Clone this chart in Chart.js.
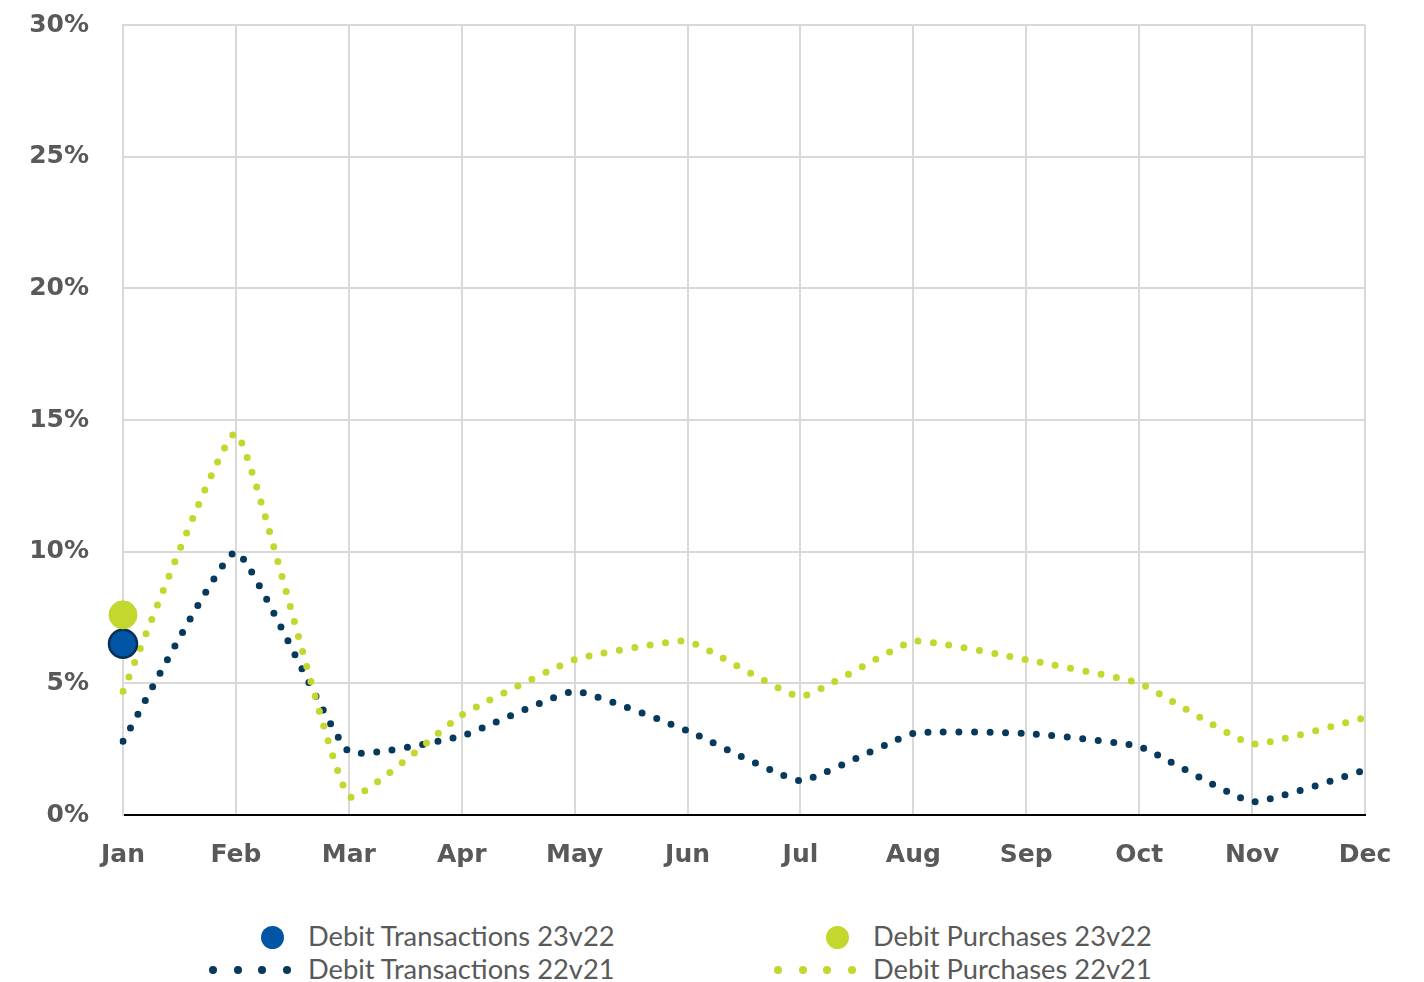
<!DOCTYPE html>
<html>
<head>
<meta charset="utf-8">
<script src="https://cdn.jsdelivr.net/npm/chart.js@4.4.1/dist/chart.umd.min.js"></script>
<style>
  html, body { margin: 0; padding: 0; background: #fff; }
  #wrap { position: relative; width: 1424px; height: 982px; }
  #chartBox { position: absolute; left: 0; top: 0; width: 1424px; height: 900px; }
  .legend { position: absolute; font-family: Lato, "Open Sans", sans-serif; font-size: 27.3px; color: #595959; white-space: nowrap; line-height: 30px; }
  .dot { position: absolute; border-radius: 50%; }
</style>
</head>
<body>
<div id="wrap">
  <div id="chartBox"><canvas id="c"></canvas></div>
  <div id="legendBox"></div>
</div>
<script>
// Months along the category axis
const months = ['Jan','Feb','Mar','Apr','May','Jun','Jul','Aug','Sep','Oct','Nov','Dec'];

// Year-over-year growth, % (22 vs 21)
const debitTransactions22v21 = [2.8, 10.0, 2.4, 3.0, 4.7, 3.2, 1.3, 3.1, 3.1, 2.6, 0.5, 1.7];
const debitPurchases22v21    = [4.7, 14.5, 0.7, 3.8, 5.9, 6.6, 4.5, 6.6, 5.9, 5.0, 2.7, 3.7];

// Year-over-year growth, % (23 vs 22) - only January reported so far
const debitTransactions23v22 = [6.5, null, null, null, null, null, null, null, null, null, null, null];
const debitPurchases23v22    = [7.6, null, null, null, null, null, null, null, null, null, null, null];

// Value-axis ticks
const yTicks = [0, 5, 10, 15, 20, 25, 30];

const NAVY = '#06395b';
const LIME = '#c3d72e';
const BLUE = '#0055a4';

const tickFont = { family: '"DejaVu Sans", Verdana, sans-serif', size: 25, weight: 'bold' };

new Chart(document.getElementById('c'), {
  type: 'line',
  data: {
    labels: months,
    datasets: [
      {
        label: 'Debit Transactions 22v21',
        data: debitTransactions22v21,
        borderColor: NAVY,
        borderWidth: 7,
        borderDash: [0, 15.5],
        borderCapStyle: 'round',
        tension: 0.12,
        pointRadius: 0,
        fill: false,
        order: 4
      },
      {
        label: 'Debit Purchases 22v21',
        data: debitPurchases22v21,
        borderColor: LIME,
        borderWidth: 7,
        borderDash: [0, 15.5],
        borderCapStyle: 'round',
        tension: 0.12,
        pointRadius: 0,
        fill: false,
        order: 3
      },
      {
        label: 'Debit Transactions 23v22',
        data: debitTransactions23v22,
        showLine: false,
        pointRadius: 14,
        pointBackgroundColor: BLUE,
        pointBorderColor: '#0b2f52',
        pointBorderWidth: 2.5,
        clip: false,
        order: 2
      },
      {
        label: 'Debit Purchases 23v22',
        data: debitPurchases23v22,
        showLine: false,
        pointRadius: 14,
        pointBackgroundColor: LIME,
        pointBorderColor: LIME,
        pointBorderWidth: 1,
        clip: false,
        order: 1
      }
    ]
  },
  options: {
    responsive: true,
    maintainAspectRatio: false,
    animation: false,
    layout: { padding: { left: 0, right: 59, top: 25, bottom: 0 } },
    plugins: { legend: { display: false }, tooltip: { enabled: false } },
    scales: {
      x: {
        offset: false,
        grid: { color: '#d9d9d9', lineWidth: 2, drawTicks: false },
        border: { color: '#000000', width: 2 },
        ticks: { color: '#595959', font: tickFont, padding: 25, maxRotation: 0, autoSkip: false },
        afterFit: s => { s.height = 85; }
      },
      y: {
        min: 0,
        max: 30,
        afterBuildTicks: s => { s.ticks = yTicks.map(v => ({ value: v })); },
        grid: { color: '#d9d9d9', lineWidth: 2, drawTicks: true, tickLength: 34, tickColor: 'rgba(0,0,0,0)' },
        border: { color: '#d9d9d9', width: 2 },
        ticks: { color: '#595959', font: tickFont, padding: 0, callback: v => v + '%' },
        afterFit: s => { s.width = 123; }
      }
    }
  }
});

// Legend, two columns
const legendItems = [
  { text: 'Debit Transactions 23v22', kind: 'circle', color: BLUE, x: 308, y: 921 },
  { text: 'Debit Purchases 23v22',    kind: 'circle', color: LIME, x: 873, y: 921 },
  { text: 'Debit Transactions 22v21', kind: 'dots',   color: NAVY, x: 308, y: 954 },
  { text: 'Debit Purchases 22v21',    kind: 'dots',   color: LIME, x: 873, y: 954 }
];
const box = document.getElementById('legendBox');
legendItems.forEach(it => {
  const t = document.createElement('div');
  t.className = 'legend';
  t.style.left = it.x + 'px';
  t.style.top = it.y + 'px';
  t.textContent = it.text;
  box.appendChild(t);
  const cy = it.y + 16;
  if (it.kind === 'circle') {
    const d = document.createElement('div');
    d.className = 'dot';
    d.style.width = '23px'; d.style.height = '23px';
    d.style.left = (it.x - 47) + 'px';
    d.style.top = (cy - 11.5) + 'px';
    d.style.background = it.color;
    box.appendChild(d);
  } else {
    for (let i = 0; i < 4; i++) {
      const d = document.createElement('div');
      d.className = 'dot';
      d.style.width = '8px'; d.style.height = '8px';
      d.style.left = (it.x - 99 + i * 24.5) + 'px';
      d.style.top = (cy - 4) + 'px';
      d.style.background = it.color;
      box.appendChild(d);
    }
  }
});
</script>
</body>
</html>
